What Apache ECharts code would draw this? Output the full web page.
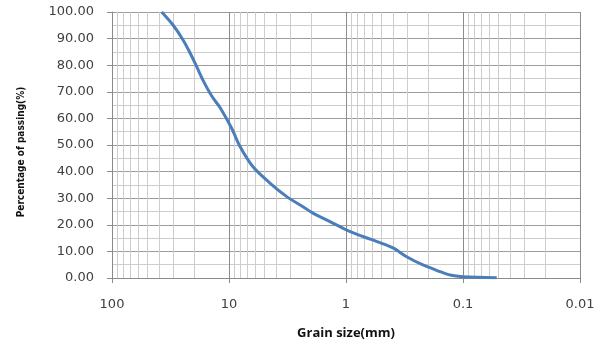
<!DOCTYPE html>
<html>
<head>
<meta charset="utf-8">
<script src="https://cdn.jsdelivr.net/npm/echarts@6/dist/echarts.min.js"></script>
<style>
html,body{margin:0;padding:0;background:#fff;}
#c{width:604px;height:342px;}
</style>
</head>
<body>
<div id="c"></div>
<script>
// Grain size (mm) and percentage passing
var grainSize = [37.6, 30.1, 24.7, 21.5, 18.8, 16.7, 14.0, 11.9, 9.49, 8.05, 6.24, 4.47, 3.21, 2.33, 1.92, 1.37, 0.987, 0.716, 0.512, 0.396, 0.303, 0.220, 0.157, 0.129, 0.100, 0.0515];
var passing   = [100, 95.1, 89.5, 84.6, 79.3, 74.4, 68.3, 64.0, 56.3, 49.4, 41.8, 35.7, 30.6, 26.8, 24.4, 21.2, 18.0, 15.6, 13.3, 11.3, 8.0, 4.9, 2.4, 1.1, 0.5, 0.1];

// Axis labels / gridline values
var xTickLabels = ['100', '10', '1', '0.1', '0.01'];
var xMinorGrid = [90, 80, 70, 60, 50, 40, 30, 20, 9, 8, 7, 6, 5, 4, 3, 2, 0.9, 0.8, 0.7, 0.6, 0.5, 0.4, 0.3, 0.2, 0.09, 0.08, 0.07, 0.06, 0.05, 0.04, 0.03, 0.02];

var chart = echarts.init(document.getElementById('c'), null, {renderer: 'canvas'});

var points = grainSize.map(function (d, i) { return [d, passing[i]]; });
var minorGridColor = '#cdcdcd';

function px(v) { return Math.round(v) + 0.5; }

var series = [
  {
    type: 'custom',
    name: 'vgrid',
    silent: true,
    z: 1,
    clip: false,
    data: xMinorGrid.map(function (v) { return [v, 50]; }),
    encode: {x: 0, y: 1},
    renderItem: function (params, api) {
      var v = api.value(0);
      var a = api.coord([v, 0]);
      var b = api.coord([v, 100]);
      return {type: 'line', shape: {x1: px(a[0]), y1: a[1], x2: px(b[0]), y2: b[1]},
              style: {stroke: minorGridColor, lineWidth: 1}};
    }
  },
  {
    type: 'line',
    name: 'Passing',
    data: points,
    z: 3,
    smooth: 0.3,
    showSymbol: false,
    symbol: 'none',
    lineStyle: {color: '#4a7ebb', width: 3}
  }
];

chart.setOption({
  animation: false,
  backgroundColor: '#ffffff',
  grid: {left: 112, right: 24, top: 12, bottom: 64, containLabel: false, outerBoundsMode: 'none'},
  xAxis: {
    type: 'log',
    logBase: 10,
    min: 0.01,
    max: 100,
    inverse: true,
    name: 'Grain size(mm)',
    nameLocation: 'middle',
    nameGap: 49,
    nameTextStyle: {fontFamily: 'Open Sans', fontWeight: 'bold', fontSize: 13, color: '#111'},
    axisLine: {show: true, lineStyle: {color: '#8a8a8a', width: 1}},
    axisTick: {show: true, length: 5, lineStyle: {color: '#8a8a8a'}},
    axisLabel: {
      margin: 20,
      fontFamily: 'DejaVu Sans',
      fontSize: 13,
      color: '#404040',
      formatter: function (v) {
        var s = Number(Number(v).toPrecision(3)).toString();
        return xTickLabels.indexOf(s) >= 0 ? s : '';
      }
    },
    splitLine: {show: true, lineStyle: {color: '#8c8c8c', width: 1}},
    minorTick: {show: false},
    minorSplitLine: {show: false}
  },
  yAxis: {
    type: 'value',
    min: 0,
    max: 100,
    interval: 10,
    name: 'Percentage of passing(%)',
    nameLocation: 'middle',
    nameGap: 86,
    nameRotate: 90,
    nameTextStyle: {fontFamily: 'DejaVu Sans Condensed, Liberation Sans, sans-serif', fontWeight: 'bold', fontSize: 10, color: '#111', padding: [0, 14, 0, 0]},
    axisLine: {show: true, lineStyle: {color: '#8a8a8a', width: 1}},
    axisTick: {show: true, length: 5, lineStyle: {color: '#8a8a8a'}},
    axisLabel: {
      margin: 18,
      fontFamily: 'DejaVu Sans',
      fontSize: 13,
      color: '#404040',
      formatter: function (v) { return v.toFixed(2); }
    },
    splitLine: {show: true, lineStyle: {color: '#9c9c9c', width: 1}},
    minorTick: {show: false, splitNumber: 2},
    minorSplitLine: {show: true, lineStyle: {color: minorGridColor, width: 1}}
  },
  series: series
});
</script>
</body>
</html>
